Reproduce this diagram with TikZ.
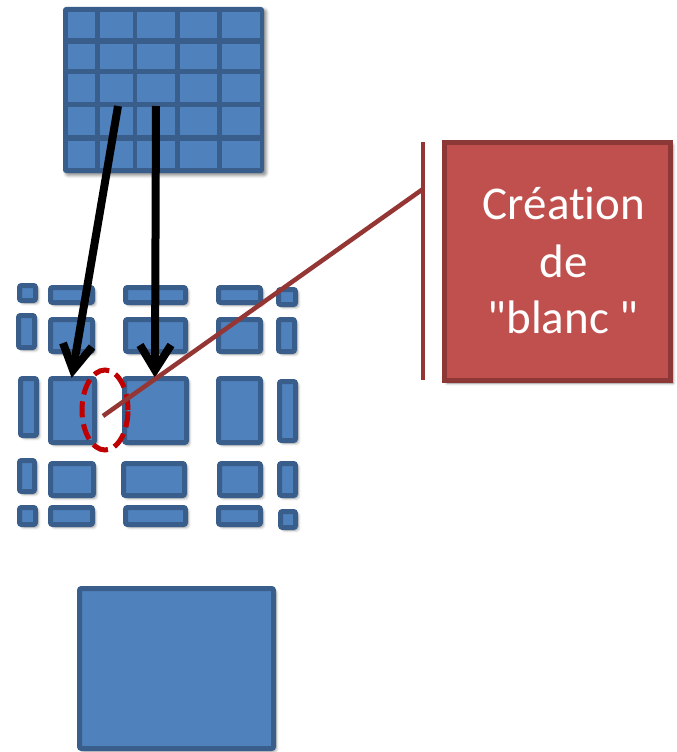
\documentclass[tikz,border=0pt]{standalone}
\usepackage{fontspec}
\setmainfont{Carlito}[Ligatures={NoCommon,TeXOff}]
\usetikzlibrary{shadows,shadows.blur,shapes.geometric}
\definecolor{bfill}{HTML}{4F81BD}
\definecolor{bline}{HTML}{3A5E8C}
\definecolor{rfill}{HTML}{C0504D}
\definecolor{rline}{HTML}{8C3836}
\definecolor{brown}{HTML}{943634}
\definecolor{dred}{HTML}{C00000}
\tikzset{
  shad/.style={blur shadow={shadow xshift=2.5pt, shadow yshift=-2.5pt, shadow blur radius=3pt, shadow opacity=45}},
  blk/.style={draw=bline, fill=bfill, line width=5pt, rounded corners=2pt, shad},
  cell/.style={fill=bfill},
  arr/.style={line width=8pt, black},
  head/.style={line width=8pt, black, line join=miter},
  lbl/.style={text=white, font=\fontsize{47}{57}\selectfont, anchor=base, inner sep=0pt},
}
\newcommand\blk[4]{\draw[blk] (#1+2.5,#2+2.5) rectangle (#3-2.5,#4-2.5);}
\newcommand\cellr[4]{\fill[cell] (#1,#2) rectangle (#3,#4);}
\begin{document}
\begin{tikzpicture}[x=1pt,y=-1pt]
\useasboundingbox (0,0) rectangle (677,752);
% top grid
\fill[bline, rounded corners=3pt, shad] (63,7) rectangle (264,173);
\foreach \xa/\xb in {68/95,100/133,137/175,180/217,222/260}{
  \foreach \ya/\yb in {12/38,44/69,74/102,107/135,141/168}{
    \cellr{\xa}{\ya}{\xb}{\yb}
  }
}
% middle blocks
\blk{17}{283}{38}{303}\blk{48}{285}{95}{305}\blk{123}{285}{188}{305}\blk{216}{285}{263}{305}\blk{276}{287}{298}{307}
\blk{16}{313}{37}{350}\blk{48}{317}{95}{354}\blk{123}{317}{188}{354}\blk{216}{317}{263}{354}\blk{276}{317}{297}{354}
\blk{18}{376}{39}{438}\blk{48}{376}{97}{445}\blk{122}{376}{189}{445}\blk{216}{376}{263}{445}\blk{277}{379}{298}{443}
\blk{17}{458}{37}{494}\blk{48}{461}{96}{498}\blk{121}{461}{187}{498}\blk{217}{461}{263}{498}\blk{277}{461}{298}{498}
\blk{17}{505}{38}{527}\blk{48}{505}{95}{527}\blk{123}{505}{188}{527}\blk{216}{505}{263}{527}\blk{278}{509}{298}{530}
% bottom square
\blk{77}{586}{276}{751}
% arrows
\coordinate (a1s) at (118,106);
\coordinate (a1t) at (73,370);
\coordinate (a1l) at (63,343);
\coordinate (a1r) at (92,347);
\coordinate (a2s) at (156,106);
\coordinate (a2t) at (155,370);
\coordinate (a2l) at (140,345);
\coordinate (a2r) at (171,345);
\draw[arr] (a1s) -- (a1t);
\draw[head] (a1l) -- (a1t) -- (a1r);
\draw[arr] (a2s) -- (a2t);
\draw[head] (a2l) -- (a2t) -- (a2r);
% dashed ellipse
\node[draw=dred, line width=5pt, dash pattern=on 16pt off 7pt, ellipse, minimum width=46pt, minimum height=80pt, inner sep=0pt] (ell) at (105,410) {};
% callout
\coordinate (lp) at (103,416);
\coordinate (bt) at (423,142);
\coordinate (bb) at (423,380);
\coordinate (bm) at (423,189);
\draw[brown, line width=4.5pt] (lp) -- (bm);
\draw[brown, line width=4.5pt] (bt) -- (bb);
\draw[draw=rline, fill=rfill, line width=5pt, shad] (444.5,142.5) rectangle (670.5,380.5);
\node[lbl] (t1) at (564,219) {Création};
\node[lbl] (t2) at (564,277) {de};
\node[lbl] (t3) at (563,333) {"blanc "};
\end{tikzpicture}
\end{document}
